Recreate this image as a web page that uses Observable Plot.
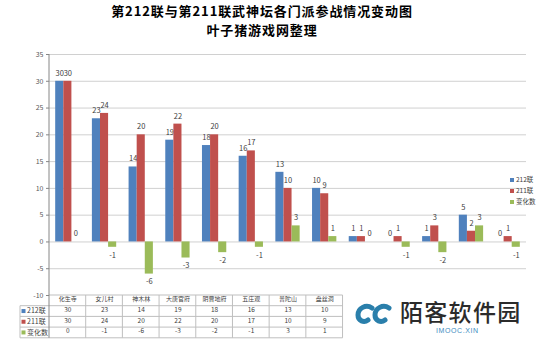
<!DOCTYPE html>
<html><head><meta charset="utf-8">
<script src="https://cdn.jsdelivr.net/npm/d3@7"></script>
<script src="https://cdn.jsdelivr.net/npm/@observablehq/plot@0.6"></script>
<style>
body{margin:0;background:#fff;font-family:"Noto Sans CJK SC","Noto Sans",sans-serif;}
#wrap{position:relative;width:540px;height:343px;overflow:hidden;background:#fff;}
.title{position:absolute;left:0;width:524px;text-align:center;font-weight:bold;font-size:13px;letter-spacing:0.9px;line-height:19px;height:19px;color:#000;white-space:nowrap;}
#chart{position:absolute;left:0;top:42px;}
#legend{position:absolute;left:510px;top:174px;font-size:6.5px;color:#404040;line-height:11px;}
#legend .sw{display:inline-block;width:4px;height:4px;margin-right:2px;vertical-align:0px;}
#wm{position:absolute;left:355px;top:296px;width:185px;height:47px;}
#wm .name{position:absolute;left:45px;top:0px;font-size:23px;letter-spacing:1.3px;color:#2b2b2b;font-weight:500;line-height:30px;white-space:nowrap;}
#wm .site{position:absolute;left:81px;top:31px;font-size:7px;color:#3b8dc2;letter-spacing:0.6px;white-space:nowrap;font-family:"Liberation Sans",sans-serif;}
</style></head><body>
<div id="wrap">
  <div class="title" style="top:1px">第212联与第211联武神坛各门派参战情况变动图</div>
  <div class="title" style="top:20px">叶子猪游戏网整理</div>
  <div id="chart"></div>
  <div id="legend"></div>
  <div id="wm">
    <svg width="42" height="26" style="position:absolute;left:0;top:6px">
      <path d="M17,6 C11,2 3,6 3,13 C3,19 9,21 13,18" fill="none" stroke="#2a7fab" stroke-width="5" stroke-linecap="round"/>
      <path d="M34,6 C28,2 20,6 20,13 C20,19 26,21 30,18" fill="none" stroke="#2a7fab" stroke-width="5" stroke-linecap="round"/>
    </svg>
    <div class="name">陌客软件园</div>
    <div class="site">IMOOC.XIN</div>
  </div>
</div>
<script>
// ---- data ----
const categories = ["化生寺","女儿村","神木林","大唐官府","阴曹地府","五庄观","普陀山","盘丝洞","方寸山","狮驼岭","魔王寨","龙宫","天宫"];
const series = ["212联","211联","变化数"];
const seriesColors = ["#4f81bd","#c0504d","#9bbb59"];
const v212 = [30,23,14,19,18,16,13,10,1,0,1,5,0];
const v211 = [30,24,20,22,20,17,10,9,1,1,3,2,1];
const vChange = [0,-1,-6,-3,-2,-1,3,1,0,-1,-2,3,-1];
const yTicks = [-10,-5,0,5,10,15,20,25,30,35];
const tableColumns = 8; // the rest of the data table is hidden by the watermark

// ---- layout ----
const W = 540, H = 301, ml = 49, mr = 14, mt = 12, mb = 48;
const step = (W - ml - mr) / categories.length;
const bw = 8.1;
const offs = [-bw, 0, bw];
const values = [v212, v211, vChange];

const rows = [];
series.forEach((s, si) => categories.forEach((c, ci) => rows.push({cat: c, s, si, v: values[si][ci]})));

const font = "Noto Sans CJK SC";
const marks = [
  Plot.ruleY(yTicks.filter(t => t > -10), {stroke: "#d0d0d0", strokeWidth: 1}),
  Plot.axisY(yTicks, {tickSize: 3, tickPadding: 3, tickFormat: d => String(d), fontSize: 7, fill: "#595959", stroke: "#868686", label: null, fontFamily: font})
];
series.forEach((s, si) => {
  const d = rows.filter(r => r.si === si);
  marks.push(Plot.barY(d, {x: "cat", y: "v", fill: seriesColors[si],
    insetLeft: step / 2 - bw * 1.5 + si * bw, insetRight: step / 2 - bw * 1.5 + (2 - si) * bw}));
  marks.push(Plot.text(d.filter(r => r.v >= 0), {x: "cat", y: "v", text: r => String(r.v), dx: offs[si], dy: -8, fontSize: 7.5, fill: "#404040", fontFamily: font}));
  marks.push(Plot.text(d.filter(r => r.v < 0), {x: "cat", y: "v", text: r => String(r.v), dx: offs[si], dy: 8, fontSize: 7.5, fill: "#404040", fontFamily: font}));
});
// data table text
const tableCats = categories.slice(0, tableColumns);
const rh = 10.7;
marks.push(Plot.text(tableCats, {x: d => d, text: d => d, frameAnchor: "bottom", dy: rh / 2 + 0.5, fontSize: 6, fill: "#404040", fontFamily: font}));
series.forEach((s, si) => {
  marks.push(Plot.text(tableCats.map((c, i) => ({c, v: values[si][i]})), {x: "c", text: d => String(d.v), frameAnchor: "bottom", dy: rh * (si + 1.5) + 0.5, fontSize: 6.5, fill: "#404040", fontFamily: font}));
});

const plot = Plot.plot({
  width: W, height: H,
  marginLeft: ml, marginRight: mr, marginTop: mt, marginBottom: mb,
  style: {fontFamily: font, fontSize: "8px", background: "transparent", overflow: "visible"},
  x: {type: "band", domain: categories, padding: 0, round: false, axis: null},
  y: {domain: [-10, 35], axis: null},
  marks
});
document.getElementById("chart").appendChild(plot);

// table grid + axis line via the plot's own scales
const xd = plot.scale("x"), yd = plot.scale("y");
const xs = d3.scaleBand().domain(xd.domain).range(xd.range).paddingInner(0).paddingOuter(0);
const ys = d3.scaleLinear().domain(yd.domain).range(yd.range);
const svg = d3.select(plot);
const g = svg.append("g").attr("text-anchor", "start");
const yb = ys(-10);
const xEnd = xs(categories[tableColumns - 1]) + xs.bandwidth();
const lineCol = "#bfbfbf";
tableCats.forEach(c => {
  const x = xs(c) + xs.bandwidth();
  g.append("line").attr("x1", x).attr("x2", x).attr("y1", yb).attr("y2", yb + 4 * rh).attr("stroke", lineCol);
});
g.append("line").attr("x1", ml).attr("x2", xEnd).attr("y1", yb).attr("y2", yb).attr("stroke", lineCol);
for (let k = 1; k <= 4; k++) {
  g.append("line").attr("x1", 20).attr("x2", xEnd).attr("y1", yb + k * rh).attr("y2", yb + k * rh).attr("stroke", lineCol);
}
g.append("line").attr("x1", 20).attr("x2", 20).attr("y1", yb + rh).attr("y2", yb + 4 * rh).attr("stroke", lineCol);
g.append("line").attr("x1", ml).attr("x2", ml).attr("y1", ys(35)).attr("y2", yb + 4 * rh).attr("stroke", "#868686");
series.forEach((s, si) => {
  const cy = yb + rh * (si + 1.5);
  g.append("rect").attr("x", 21.5).attr("y", cy - 2).attr("width", 4).attr("height", 4).attr("fill", seriesColors[si]);
  g.append("text").attr("x", 27).attr("y", cy).attr("dy", "0.32em").attr("text-anchor", "start").attr("font-size", 7).attr("fill", "#404040").attr("font-family", font).text(s);
});

// legend
const lg = d3.select("#legend");
series.forEach((s, si) => {
  const item = lg.append("div");
  item.append("span").attr("class", "sw").style("background", seriesColors[si]);
  item.append("span").text(s);
});
</script>
</body></html>
